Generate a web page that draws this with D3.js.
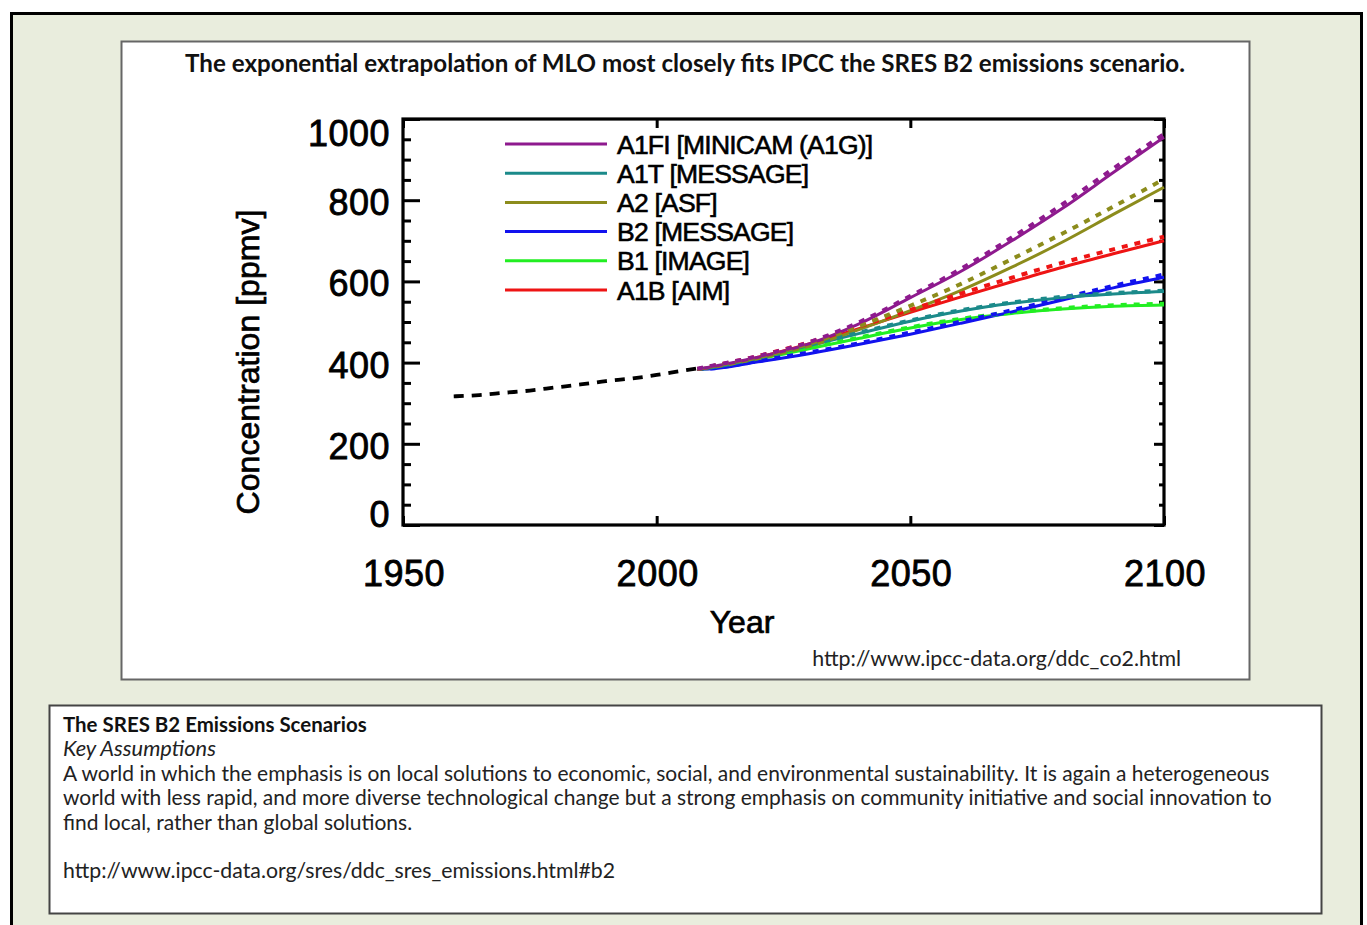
<!DOCTYPE html>
<html>
<head>
<meta charset="utf-8">
<script src="https://cdn.jsdelivr.net/npm/d3@7"></script>
<style>
  html, body { margin: 0; padding: 0; background: #ffffff; }
  svg { display: block; }
</style>
</head>
<body>
<svg id="chart" width="1367" height="925"></svg>
<script>
// ---------------- data ----------------
const titleText = "The exponential extrapolation of MLO most closely fits IPCC the SRES B2 emissions scenario.";
const sourceText = "http://www.ipcc-data.org/ddc_co2.html";
const xTicks = [1950, 2000, 2050, 2100];
const yTicks = [0, 200, 400, 600, 800, 1000];
const yMinorStep = 50;

const histYears = [1960, 1965, 1970, 1975, 1980, 1985, 1990, 1995, 2000, 2005, 2008];
const histCO2   = [316.9, 320.0, 325.7, 331.1, 338.7, 346.1, 354.4, 360.8, 369.6, 379.8, 385.6];

const scenYears = [2008, 2010, 2020, 2030, 2040, 2050, 2060, 2070, 2080, 2090, 2100];
const scenarioNames  = ["A1FI [MINICAM (A1G)]", "A1T [MESSAGE]", "A2 [ASF]", "B2 [MESSAGE]", "B1 [IMAGE]", "A1B [AIM]"];
const scenarioColors = ["#8e1a8e", "#1b8a8a", "#8c8c1c", "#1212ee", "#22ee22", "#ee1414"];

const a1fiSolid  = [384, 388, 413, 446, 496, 560, 625, 700, 780, 868, 955];
const a1fiDashed = [385, 390, 416, 450, 500, 564, 631, 708, 790, 878, 963];
const a1tSolid   = [384, 386, 411, 441, 472, 502, 527, 546, 560, 569, 575];
const a1tDashed  = [384, 387, 412, 443, 474, 504, 529, 548, 562, 571, 577];
const a2Solid    = [384, 387, 410, 440, 482, 528, 578, 635, 697, 765, 832];
const a2Dashed   = [384, 389, 413, 446, 490, 540, 594, 655, 718, 784, 852];
const b2Solid    = [384, 384, 402, 422, 445, 470, 497, 525, 554, 584, 610];
const b2Dashed   = [384, 385, 404, 425, 448, 474, 501, 529, 559, 589, 617];
const b1Solid    = [384, 385, 408, 434, 460, 485, 506, 521, 532, 539, 542];
const b1Dashed   = [384, 386, 409, 436, 462, 487, 508, 523, 534, 541, 545];
const a1bSolid   = [384, 387, 413, 446, 484, 524, 562, 599, 635, 668, 700];
const a1bDashed  = [384, 389, 416, 450, 489, 530, 570, 609, 646, 679, 710];

const solidSeries  = [a1fiSolid, a1tSolid, a2Solid, b2Solid, b1Solid, a1bSolid];
const dashedSeries = [a1fiDashed, a1tDashed, a2Dashed, b2Dashed, b1Dashed, a1bDashed];

const boxTitle = "The SRES B2 Emissions Scenarios";
const boxSubtitle = "Key Assumptions";
const boxLines = [
  "A world in which the emphasis is on local solutions to economic, social, and environmental sustainability. It is again a heterogeneous",
  "world with less rapid, and more diverse technological change but a strong emphasis on community initiative and social innovation to",
  "find local, rather than global solutions."
];
const boxUrl = "http://www.ipcc-data.org/sres/ddc_sres_emissions.html#b2";

// ---------------- drawing ----------------
const svg = d3.select("#chart");
const sansUI = "Lato, 'Open Sans', 'Noto Sans', sans-serif";
const sansPlot = "'Liberation Sans', Arial, Helvetica, sans-serif";

function fit(sel, target) {
  const n = sel.node();
  const fs = parseFloat(sel.attr("font-size"));
  const len = n.getComputedTextLength();
  if (len > 0) sel.attr("font-size", (fs * target / len).toFixed(2));
  return parseFloat(sel.attr("font-size"));
}

// outer slide frame
svg.append("rect").attr("x", 11.5).attr("y", 13.5).attr("width", 1350).attr("height", 940)
  .attr("fill", "#e9eddd").attr("stroke", "#000").attr("stroke-width", 3);

// chart panel
svg.append("rect").attr("x", 121.5).attr("y", 41.5).attr("width", 1128).attr("height", 638)
  .attr("fill", "#fff").attr("stroke", "#666").attr("stroke-width", 2);

const title = svg.append("text").attr("x", 685).attr("y", 72).attr("text-anchor", "middle")
  .attr("font-family", sansUI).attr("font-weight", "bold").attr("font-size", 20)
  .attr("fill", "#111").text(titleText);
fit(title, 1000);

const src = svg.append("text").attr("x", 1181).attr("y", 666).attr("text-anchor", "end")
  .attr("font-family", sansUI).attr("font-size", 18).attr("fill", "#222").text(sourceText);
fit(src, 369);

// scales
const x = d3.scaleLinear().domain([1950, 2100]).range([403, 1164]);
const y = d3.scaleLinear().domain([0, 1000]).range([525, 119]);

const g = svg.append("g");

// frame
g.append("rect").attr("x", x(1950)).attr("y", y(1000)).attr("width", x(2100) - x(1950)).attr("height", y(0) - y(1000))
  .attr("fill", "none").attr("stroke", "#000").attr("stroke-width", 3.2);

// ticks
const yMinor = d3.range(0, 1001, yMinorStep).filter(v => yTicks.indexOf(v) < 0);
const yLeft = d3.axisLeft(y).tickValues(yTicks).tickSize(-17).tickFormat("");
const yLeftMinor = d3.axisLeft(y).tickValues(yMinor).tickSize(-8).tickFormat("");
const yRight = d3.axisRight(y).tickValues(yTicks).tickSize(-10).tickFormat("");
const yRightMinor = d3.axisRight(y).tickValues(yMinor).tickSize(-5).tickFormat("");
const xBottom = d3.axisBottom(x).tickValues(xTicks).tickSize(-9).tickFormat("");
const xTop = d3.axisTop(x).tickValues(xTicks).tickSize(-9).tickFormat("");

function styleAxis(sel) {
  sel.select(".domain").remove();
  sel.selectAll("line").attr("stroke", "#000").attr("stroke-width", 3);
}
g.append("g").attr("transform", `translate(${x(1950)},0)`).call(yLeft).call(styleAxis);
g.append("g").attr("transform", `translate(${x(1950)},0)`).call(yLeftMinor).call(styleAxis);
g.append("g").attr("transform", `translate(${x(2100)},0)`).call(yRight).call(styleAxis);
g.append("g").attr("transform", `translate(${x(2100)},0)`).call(yRightMinor).call(styleAxis);
g.append("g").attr("transform", `translate(0,${y(0)})`).call(xBottom).call(styleAxis);
g.append("g").attr("transform", `translate(0,${y(1000)})`).call(xTop).call(styleAxis);

// tick labels
const yLabelNudge = v => v === 1000 ? 14 : (v === 0 ? -11 : 2);
g.append("g").selectAll("text").data(yTicks).join("text")
  .attr("x", 390).attr("y", d => y(d) + yLabelNudge(d)).attr("dy", "0.36em")
  .attr("text-anchor", "end").attr("font-family", sansPlot).attr("font-size", 36)
  .attr("fill", "#000").attr("stroke", "#000").attr("stroke-width", 0.8)
  .attr("letter-spacing", 0.5).text(d => d);
g.append("g").selectAll("text").data(xTicks).join("text")
  .attr("x", d => x(d) + 1).attr("y", 573).attr("dy", "0.36em")
  .attr("text-anchor", "middle").attr("font-family", sansPlot).attr("font-size", 36)
  .attr("fill", "#000").attr("stroke", "#000").attr("stroke-width", 0.8)
  .attr("letter-spacing", 0.5).text(d => d);

// axis titles
g.append("text").attr("x", 742).attr("y", 621).attr("dy", "0.36em").attr("text-anchor", "middle")
  .attr("font-family", sansPlot).attr("font-size", 32).attr("fill", "#000")
  .attr("stroke", "#000").attr("stroke-width", 0.7).text("Year");
const yt = g.append("text").attr("transform", "translate(247,362) rotate(-90)").attr("dy", "0.36em")
  .attr("text-anchor", "middle").attr("font-family", sansPlot).attr("font-size", 32)
  .attr("fill", "#000").attr("stroke", "#000").attr("stroke-width", 0.7).text("Concentration [ppmv]");
fit(yt, 305);

// lines
const line = d3.line().x(d => x(d[0])).y(d => y(d[1])).curve(d3.curveMonotoneX);

g.append("path").datum(histYears.map((yr, i) => [yr, histCO2[i]]))
  .attr("d", line).attr("fill", "none").attr("stroke", "#000")
  .attr("stroke-width", 3.8).attr("stroke-dasharray", "10,8");

const order = [4, 3, 1, 5, 2, 0];
order.forEach(i => {
  g.append("path").datum(scenYears.map((yr, k) => [yr, solidSeries[i][k]]))
    .attr("d", line).attr("fill", "none").attr("stroke", scenarioColors[i]).attr("stroke-width", 3);
});
order.forEach(i => {
  g.append("path").datum(scenYears.map((yr, k) => [yr, dashedSeries[i][k]]))
    .attr("d", line).attr("fill", "none").attr("stroke", scenarioColors[i])
    .attr("stroke-width", 4).attr("stroke-dasharray", "6,7");
});

// legend
const leg = g.append("g");
const legY0 = 144, legDy = 29.2;
scenarioNames.forEach((name, i) => {
  leg.append("line").attr("x1", 505).attr("x2", 607).attr("y1", legY0 + i * legDy).attr("y2", legY0 + i * legDy)
    .attr("stroke", scenarioColors[i]).attr("stroke-width", 3);
});
const legText = leg.selectAll("text").data(scenarioNames).join("text")
  .attr("x", 617).attr("y", (d, i) => legY0 + i * legDy).attr("dy", "0.36em")
  .attr("font-family", sansPlot).attr("font-size", 23).attr("letter-spacing", -0.8)
  .attr("fill", "#000").attr("stroke", "#000").attr("stroke-width", 0.6).text(d => d);
const lfs = fit(d3.select(legText.nodes()[0]), 253);
legText.attr("font-size", lfs);

// bottom text box
svg.append("rect").attr("x", 49.5).attr("y", 705.5).attr("width", 1272).attr("height", 208)
  .attr("fill", "#fff").attr("stroke", "#444").attr("stroke-width", 2);

const bt = svg.append("text").attr("x", 63).attr("y", 732).attr("font-family", sansUI)
  .attr("font-weight", "bold").attr("font-size", 17).attr("fill", "#111").text(boxTitle);
fit(bt, 304);
const bs = svg.append("text").attr("x", 63).attr("y", 756).attr("font-family", sansUI)
  .attr("font-style", "italic").attr("font-size", 17).attr("fill", "#222").text(boxSubtitle);
fit(bs, 153);
const bl = svg.append("g").selectAll("text").data(boxLines).join("text")
  .attr("x", 63).attr("y", (d, i) => 781 + i * 24.3).attr("font-family", sansUI)
  .attr("font-size", 17).attr("fill", "#222").text(d => d);
const pfs = fit(d3.select(bl.nodes()[0]), 1207);
bl.attr("font-size", pfs);
const bu = svg.append("text").attr("x", 63).attr("y", 878).attr("font-family", sansUI)
  .attr("font-size", pfs).attr("fill", "#222").text(boxUrl);
fit(bu, 552);
</script>
</body>
</html>
